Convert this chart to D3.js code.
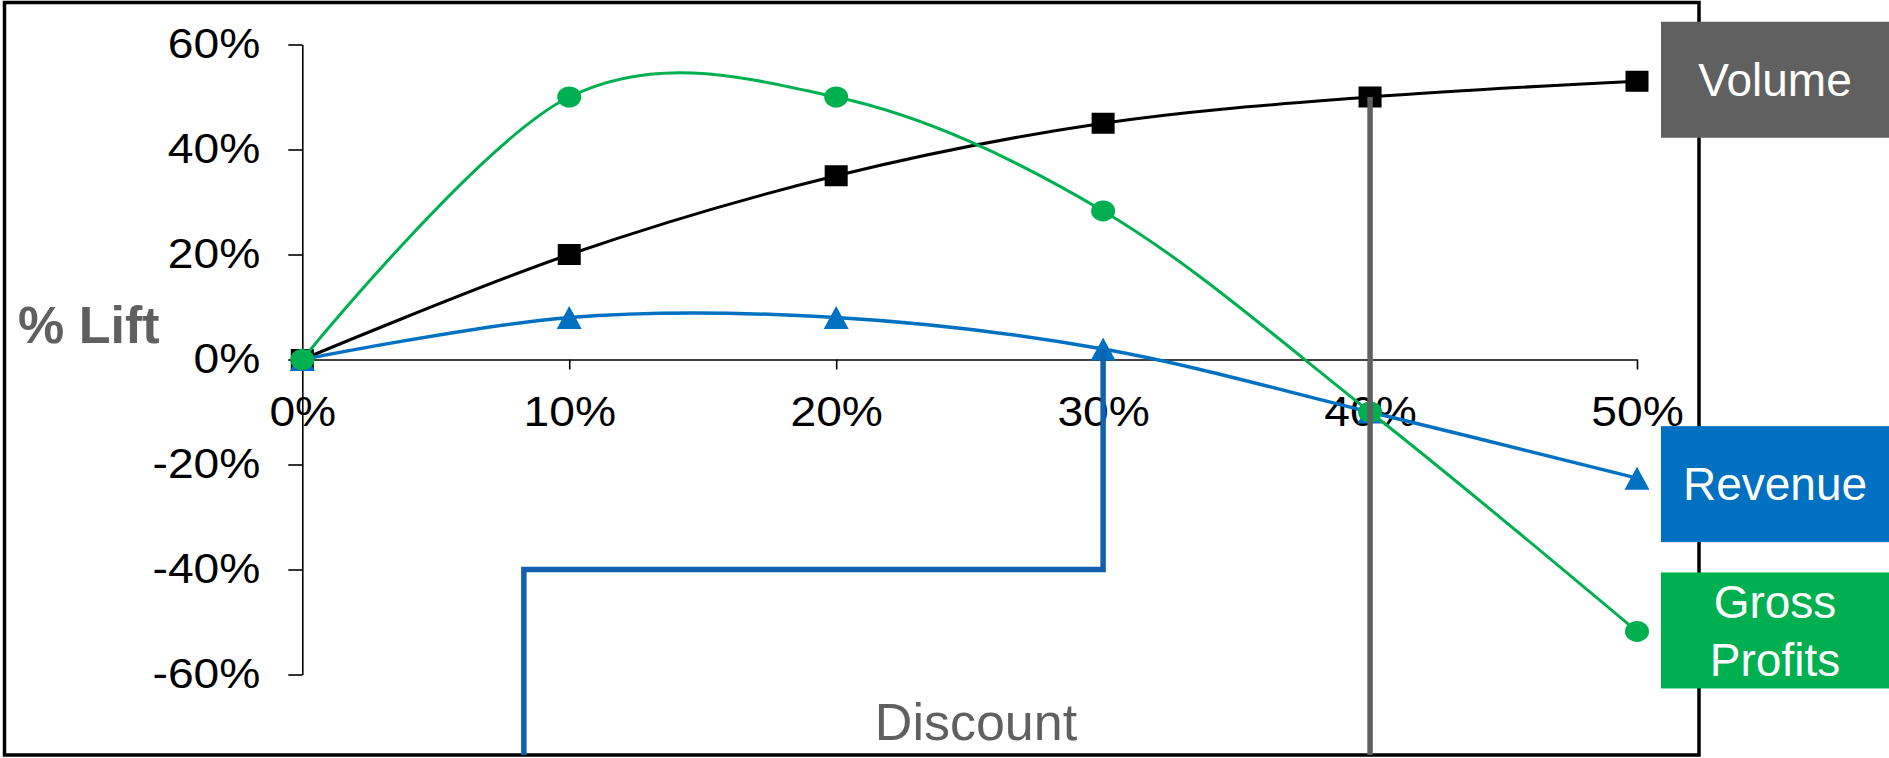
<!DOCTYPE html>
<html>
<head>
<meta charset="utf-8">
<script src="https://cdn.jsdelivr.net/npm/d3@7"></script>
<style>
  html, body { margin: 0; padding: 0; background: #fff; }
  svg { display: block; }
  text { font-family: "Liberation Sans", Arial, Helvetica, sans-serif; }
</style>
</head>
<body>
<svg id="chart" width="1889" height="758"></svg>
<script>
// Discount levels (x) and the % lift of each measure (y)
const discounts = [0, 0.1, 0.2, 0.3, 0.4, 0.5];
const volumeLift = [0, 20, 35, 45, 50, 53];
const revenueLift = [0, 8, 8, 2, -10, -22.6];
const grossProfitLift = [0, 50, 50, 28.3, -10, -51.8];

const seriesNames = ["Volume", "Revenue", "Gross Profits"];
const xTickValues = [0, 0.1, 0.2, 0.3, 0.4, 0.5];
const yTickValues = [-60, -40, -20, 0, 20, 40, 60];

// Annotation: elbow connector pointing at the revenue point at 30% discount
const connectorDiscounts = [0.083, 0.3];
const connectorLift = -40;
// Annotation: marker line dropped from the volume point at 40% discount
const markerDiscount = 0.4;

const W = 1889, H = 758;
const frame = { left: 4.5, top: 2.5, right: 1699, bottom: 755 };
const tickFont = "42px";
const tickStretch = 1.1;

const svg = d3.select("#chart");

const x = d3.scaleLinear().domain([0, 0.5]).range([302.3, 1637]);
const y = d3.scaleLinear().domain([-60, 60]).range([674.5, 44.5]);

// outer frame
svg.append("rect")
  .attr("x", frame.left).attr("y", frame.top)
  .attr("width", frame.right - frame.left).attr("height", frame.bottom - frame.top)
  .attr("fill", "#fff").attr("stroke", "#000").attr("stroke-width", 3.5);

// y axis
const yTickSize = 14, yTickPad = 28;
const yAxis = svg.append("g")
  .attr("transform", `translate(${x(0)},0)`)
  .call(d3.axisLeft(y).tickValues(yTickValues).tickSize(yTickSize).tickSizeOuter(0)
    .tickPadding(yTickPad).tickFormat(d => d + "%"));
yAxis.select(".domain").attr("stroke", "#000").attr("stroke-width", 1.6);
yAxis.selectAll(".tick line").attr("stroke", "#000").attr("stroke-width", 1.6);
yAxis.selectAll(".tick text")
  .attr("x", 0)
  .attr("transform", `translate(${-(yTickSize + yTickPad)},0) scale(${tickStretch},1)`)
  .attr("fill", "#000").style("font-size", tickFont)
  .style("font-family", "'Liberation Sans', Arial, sans-serif");

// x axis along the zero line
const xAxis = svg.append("g")
  .attr("transform", `translate(0,${y(0)})`)
  .call(d3.axisBottom(x).tickValues(xTickValues).tickSize(10).tickSizeOuter(0)
    .tickPadding(27).tickFormat(d3.format(".0%")));
xAxis.select(".domain").attr("stroke", "#000").attr("stroke-width", 1.6);
xAxis.selectAll(".tick line").attr("stroke", "#000").attr("stroke-width", 1.6);
xAxis.selectAll(".tick text")
  .attr("transform", `scale(${tickStretch},1)`)
  .attr("fill", "#000").style("font-size", tickFont)
  .style("font-family", "'Liberation Sans', Arial, sans-serif");

// axis titles
svg.append("text")
  .attr("x", 18).attr("y", 343)
  .attr("fill", "#606060").style("font-size", "52px").style("font-weight", "bold")
  .text("% Lift");
svg.append("text")
  .attr("x", 976).attr("y", 740).attr("text-anchor", "middle")
  .attr("fill", "#606060").style("font-size", "52px")
  .text("Discount");

// series
const series = [
  { name: seriesNames[0], values: volumeLift, color: "#000000", width: 3, marker: "square", box: "#606060" },
  { name: seriesNames[1], values: revenueLift, color: "#0070C0", width: 3.5, marker: "triangle", box: "#0070C0" },
  { name: seriesNames[2], values: grossProfitLift, color: "#00B050", width: 3, marker: "circle", box: "#00B050" }
];

const line = d3.line()
  .x(d => x(d[0]))
  .y(d => y(d[1]))
  .curve(d3.curveCardinal.tension(0));

series.forEach(s => {
  const pts = discounts.map((d, i) => [d, s.values[i]]);
  const g = svg.append("g");
  g.append("path")
    .attr("d", line(pts))
    .attr("fill", "none")
    .attr("stroke", s.color)
    .attr("stroke-width", s.width)
    .attr("stroke-linejoin", "round");
  const m = g.selectAll(".m").data(pts).enter();
  if (s.marker === "square") {
    m.append("rect")
      .attr("x", d => x(d[0]) - 11.5).attr("y", d => y(d[1]) - 10.5)
      .attr("width", 23).attr("height", 21)
      .attr("fill", s.color);
  } else if (s.marker === "triangle") {
    m.append("path")
      .attr("d", d => {
        const cx = x(d[0]), cy = y(d[1]);
        return `M${cx},${cy - 11.5}L${cx + 12.5},${cy + 11.5}L${cx - 12.5},${cy + 11.5}Z`;
      })
      .attr("fill", s.color);
  } else {
    m.append("ellipse")
      .attr("cx", d => x(d[0])).attr("cy", d => y(d[1]))
      .attr("rx", 12).attr("ry", 10.5)
      .attr("fill", s.color);
  }
});

// vertical marker line from the 40% volume point
const volAtMarker = volumeLift[discounts.indexOf(markerDiscount)];
svg.append("line")
  .attr("x1", x(markerDiscount)).attr("x2", x(markerDiscount))
  .attr("y1", y(volAtMarker)).attr("y2", frame.bottom)
  .attr("stroke", "#606060").attr("stroke-width", 5.5);

// elbow connector to the revenue point at 30%
const revAtConnector = revenueLift[discounts.indexOf(connectorDiscounts[1])];
const connector = d3.path();
connector.moveTo(x(connectorDiscounts[0]), frame.bottom);
connector.lineTo(x(connectorDiscounts[0]), y(connectorLift));
connector.lineTo(x(connectorDiscounts[1]), y(connectorLift));
connector.lineTo(x(connectorDiscounts[1]), y(revAtConnector));
svg.append("path")
  .attr("d", connector.toString())
  .attr("fill", "none")
  .attr("stroke", "#1261B0")
  .attr("stroke-width", 5.5);

// series name boxes at the right edge, aligned with each series' last point
const boxLeft = x(0.5) + 24, boxH = 116;
const boxOffsets = [-1.5, 6, -1];
series.forEach((s, i) => {
  const cy = y(s.values[s.values.length - 1]) + boxOffsets[i];
  const g = svg.append("g");
  g.append("rect")
    .attr("x", boxLeft).attr("y", cy - boxH / 2)
    .attr("width", W - boxLeft).attr("height", boxH)
    .attr("fill", s.box);
  const words = s.name.split(" ");
  const cx = (boxLeft + W) / 2;
  const lh = 58;
  words.forEach((w, j) => {
    g.append("text")
      .attr("x", cx)
      .attr("y", cy + (j - (words.length - 1) / 2) * lh)
      .attr("dy", "0.35em")
      .attr("text-anchor", "middle")
      .attr("fill", "#fff")
      .style("font-size", "46px")
      .text(w);
  });
});
</script>
</body>
</html>
